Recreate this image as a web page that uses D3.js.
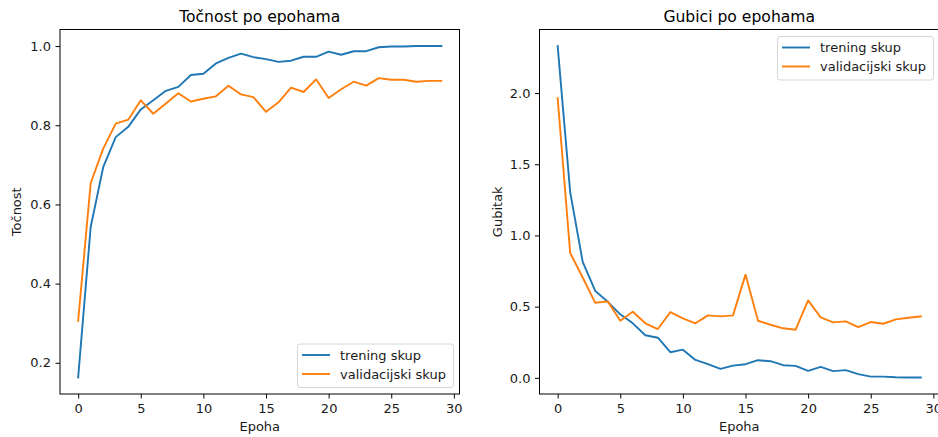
<!DOCTYPE html>
<html>
<head>
<meta charset="utf-8">
<script src="https://cdn.jsdelivr.net/npm/d3@7"></script>
<style>
  body { margin: 0; background: #fff; }
  svg { display: block; font-family: "DejaVu Sans", sans-serif; }
</style>
</head>
<body>
<svg width="938" height="437"></svg>
<script>
// epochs 0..29
const epochs = d3.range(30)

const accTrain = [0.163, 0.543, 0.694, 0.770, 0.796, 0.840, 0.863, 0.887, 0.897, 0.927,
    0.930, 0.956, 0.970, 0.981, 0.972, 0.967, 0.960, 0.963, 0.973, 0.973,
    0.986, 0.978, 0.987, 0.987, 0.997, 0.999, 0.999, 1.0, 1.0, 1.0]
const accVal = [0.306, 0.654, 0.741, 0.804, 0.814, 0.863, 0.829, 0.855, 0.881, 0.860,
    0.867, 0.873, 0.900, 0.878, 0.871, 0.834, 0.858, 0.895, 0.884, 0.916,
    0.869, 0.891, 0.910, 0.900, 0.919, 0.915, 0.915, 0.910, 0.912, 0.912]

const lossTrain = [2.33, 1.304, 0.814, 0.611, 0.534, 0.446, 0.383, 0.299, 0.282, 0.180,
    0.198, 0.126, 0.096, 0.063, 0.086, 0.096, 0.124, 0.117, 0.089, 0.084,
    0.049, 0.077, 0.047, 0.054, 0.026, 0.009, 0.009, 0.004, 0.003, 0.003]
const lossVal = [1.964, 0.877, 0.705, 0.527, 0.537, 0.401, 0.464, 0.383, 0.343, 0.462,
    0.418, 0.383, 0.439, 0.432, 0.439, 0.725, 0.401, 0.373, 0.348, 0.338,
    0.544, 0.425, 0.390, 0.397, 0.357, 0.392, 0.380, 0.411, 0.422, 0.432]

const seriesNames = ['trening skup', 'validacijski skup']
const colors = ['#1f77b4', '#ff7f0e']
const xTicks = [0, 5, 10, 15, 20, 25, 30]

const svg = d3.select('svg')
const fs = 13 // ~10pt at this figure's scale

// matplotlib-like 5% margins
function padded(vals) {
    const lo = d3.min(vals), hi = d3.max(vals)
    const m = (hi - lo) * 0.05
    return [lo - m, hi + m]
}

function panel(opts) {
    const g = svg.append('g')
    const x = d3.scaleLinear().domain(padded(epochs)).range([opts.left, opts.right])
    const y = d3.scaleLinear().domain(padded(opts.train.concat(opts.val))).range([opts.bottom, opts.top])

    // axes
    const xAxis = d3.axisBottom(x).tickValues(xTicks).tickFormat(d3.format('d'))
        .tickSizeInner(4.5).tickSizeOuter(0).tickPadding(4.8)
    const yAxis = d3.axisLeft(y).tickValues(opts.yTicks).tickFormat(d3.format('.1f'))
        .tickSizeInner(4.5).tickSizeOuter(0).tickPadding(4.5)

    const gx = g.append('g').attr('transform', `translate(0,${opts.bottom})`).call(xAxis)
    const gy = g.append('g').attr('transform', `translate(${opts.left},0)`).call(yAxis)
    ;[gx, gy].forEach(a => {
        a.select('.domain').remove()
        a.selectAll('line').attr('stroke', '#000').attr('stroke-width', 1)
        a.selectAll('text').attr('font-size', fs).attr('fill', '#1a1a1a')
            .attr('font-family', '"DejaVu Sans", sans-serif')
    })

    // lines
    const line = d3.line().x((d, i) => x(epochs[i])).y(d => y(d))
    ;[opts.train, opts.val].forEach((s, k) => {
        g.append('path')
            .datum(s)
            .attr('d', line)
            .attr('fill', 'none')
            .attr('stroke', colors[k])
            .attr('stroke-width', 1.9)
            .attr('stroke-linejoin', 'round')
            .attr('stroke-linecap', 'square')
    })

    // spines
    g.append('rect')
        .attr('x', opts.left).attr('y', opts.top)
        .attr('width', opts.right - opts.left).attr('height', opts.bottom - opts.top)
        .attr('fill', 'none').attr('stroke', '#000').attr('stroke-width', 1)

    // title and labels
    g.append('text')
        .attr('x', (opts.left + opts.right) / 2).attr('y', 21.5)
        .attr('text-anchor', 'middle').attr('font-size', 15.6).attr('fill', '#000')
        .text(opts.title)
    g.append('text')
        .attr('x', (opts.left + opts.right) / 2).attr('y', 431)
        .attr('text-anchor', 'middle').attr('font-size', fs).attr('fill', '#1a1a1a')
        .text('Epoha')
    g.append('text')
        .attr('transform', `translate(${opts.ylabelX},${(opts.top + opts.bottom) / 2}) rotate(-90)`)
        .attr('text-anchor', 'middle').attr('font-size', fs).attr('fill', '#1a1a1a')
        .text(opts.ylabel)

    // legend
    const lg = g.append('g').attr('transform', `translate(${opts.legX},${opts.legY})`)
    lg.append('rect')
        .attr('x', 0).attr('y', 0).attr('width', 156).attr('height', 43.5)
        .attr('rx', 2.5)
        .attr('fill', '#fff').attr('fill-opacity', 0.8)
        .attr('stroke', '#d6d6d6').attr('stroke-width', 1)
    seriesNames.forEach((name, k) => {
        const yy = 11 + k * 19
        lg.append('line')
            .attr('x1', 4.5).attr('x2', 32.5).attr('y1', yy).attr('y2', yy)
            .attr('stroke', colors[k]).attr('stroke-width', 1.9)
        lg.append('text')
            .attr('x', 42.5).attr('y', yy).attr('dy', '0.35em')
            .attr('font-size', fs).attr('fill', '#1a1a1a')
            .text(name)
    })
}

panel({
    left: 60, right: 459.5, top: 29.5, bottom: 394,
    train: accTrain, val: accVal,
    yTicks: [0.2, 0.4, 0.6, 0.8, 1.0],
    title: 'Točnost po epohama', ylabel: 'Točnost', ylabelX: 20.5,
    legX: 297.5, legY: 344
})

panel({
    left: 539.5, right: 939, top: 29.5, bottom: 394,
    train: lossTrain, val: lossVal,
    yTicks: [0, 0.5, 1.0, 1.5, 2.0],
    title: 'Gubici po epohama', ylabel: 'Gubitak', ylabelX: 502,
    legX: 777.5, legY: 36.5
})
</script>
</body>
</html>
